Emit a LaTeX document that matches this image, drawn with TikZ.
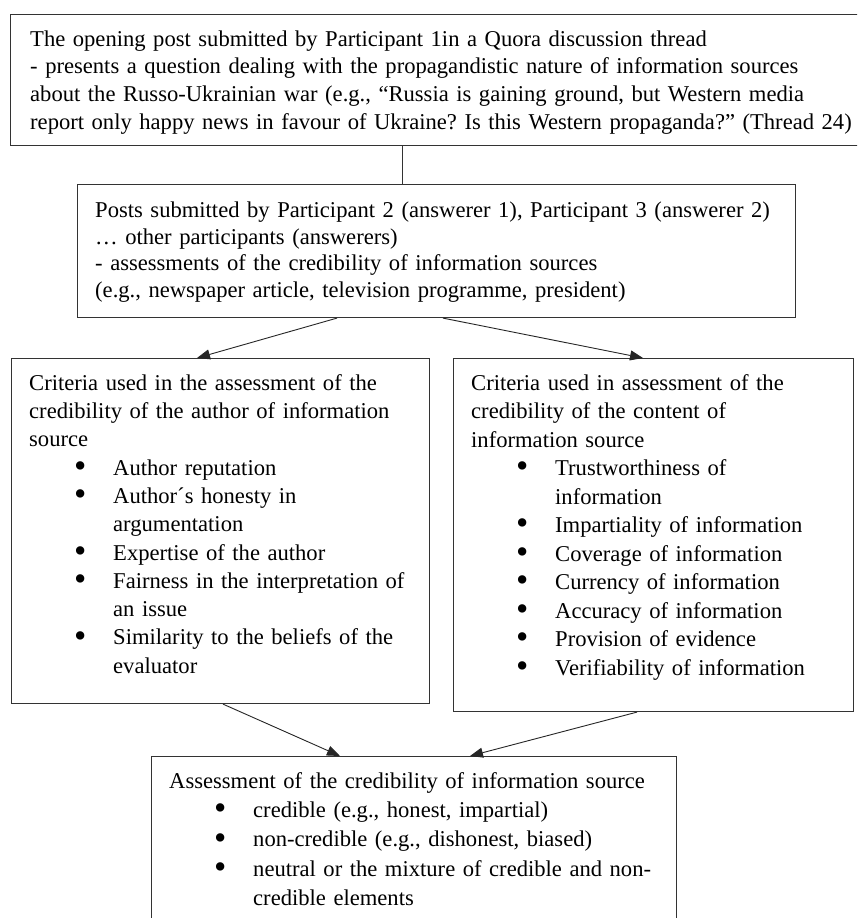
\documentclass[tikz,border=0pt]{standalone}
\usepackage{fontspec}
\usepackage{graphicx}
\setmainfont{Liberation Serif}
\usetikzlibrary{arrows.meta,calc}
\newcommand\bdot{\raisebox{-0.1em}[0pt][0pt]{\scalebox{1.55}{\textbullet}}}
\newcommand\bl[1]{\hspace*{45pt}\makebox[39pt][l]{\bdot}#1}
\newcommand\cl[1]{\hspace*{84pt}#1}
\frenchspacing
\begin{document}
\begin{tikzpicture}[x=1pt,y=-1pt,
  box/.style={draw=black!80,line width=1.1pt,inner sep=0pt,anchor=north west,rectangle},
  txt/.style={inner sep=0pt,anchor=north west,align=left,text width=880pt},
  arr/.style={draw=black!85,line width=0.9pt,-{Triangle[length=13pt,width=10pt]}},
  con/.style={draw=black!80,line width=0.9pt}]
\clip (0,0) rectangle (857,918);
\fill[white] (0,0) rectangle (857,918);
% boxes
\node[box,minimum width=865pt,minimum height=131pt] (top) at (10,14) {};
\node[box,minimum width=718pt,minimum height=133pt] (mid) at (77,184) {};
\node[box,minimum width=418pt,minimum height=345pt] (left) at (11,358) {};
\node[box,minimum width=400pt,minimum height=353pt] (right) at (453,358) {};
\node[box,minimum width=525pt,minimum height=190pt] (bot) at (151,756) {};
% texts
\node[txt,font={\fontsize{22.6}{27.7}\selectfont}] (ttop) at (30,{46-0.7*27.7}) {\strut The opening post submitted by Participant 1in a Quora discussion thread\\
- presents a question dealing with the propagandistic nature of information sources\\
about the Russo-Ukrainian war (e.g., “Russia is gaining ground, but Western media\\
report only happy news in favour of Ukraine? Is this Western propaganda?” (Thread 24)};
\node[txt,font={\fontsize{22.6}{26.8}\selectfont}] (tmid) at (95,{217-0.7*26.8}) {\strut Posts submitted by Participant 2 (answerer 1), Participant 3 (answerer 2)\\
… other participants (answerers)\\
- assessments of the credibility of information sources\\
(e.g., newspaper article, television programme, president)};
\node[txt,font={\fontsize{22.6}{28.3}\selectfont}] (tleft) at (29,{390-0.7*28.3}) {\strut Criteria used in the assessment of the\\
credibility of the author of information\\
source\\
\bl{Author reputation}\\
\bl{Author´s honesty in}\\
\cl{argumentation}\\
\bl{Expertise of the author}\\
\bl{Fairness in the interpretation of}\\
\cl{an issue}\\
\bl{Similarity to the beliefs of the}\\
\cl{evaluator}};
\node[txt,font={\fontsize{22.6}{28.5}\selectfont}] (tright) at (471,{390-0.7*28.5}) {\strut Criteria used in assessment of the\\
credibility of the content of\\
information source\\
\bl{Trustworthiness of}\\
\cl{information}\\
\bl{Impartiality of information}\\
\bl{Coverage of information}\\
\bl{Currency of information}\\
\bl{Accuracy of information}\\
\bl{Provision of evidence}\\
\bl{Verifiability of information}};
\node[txt,font={\fontsize{22.6}{29.3}\selectfont}] (tbot) at (169,{788-0.7*29.3}) {\strut Assessment of the credibility of information source\\
\bl{credible (e.g., honest, impartial)}\\
\bl{non-credible (e.g., dishonest, biased)}\\
\bl{neutral or the mixture of credible and non-}\\
\cl{credible elements}};
% connectors
\draw[con] ([xshift=392pt]top.south west) -- ([xshift=325pt]mid.north west);
\draw[arr] ([xshift=260pt]mid.south west) -- ([xshift=186pt]left.north west);
\draw[arr] ([xshift=366pt]mid.south west) -- ([xshift=190pt]right.north west);
\draw[arr] ([xshift=212pt]left.south west) -- ([xshift=189pt]bot.north west);
\draw[arr] ([xshift=184pt]right.south west) -- ([xshift=319pt]bot.north west);
\end{tikzpicture}
\end{document}
